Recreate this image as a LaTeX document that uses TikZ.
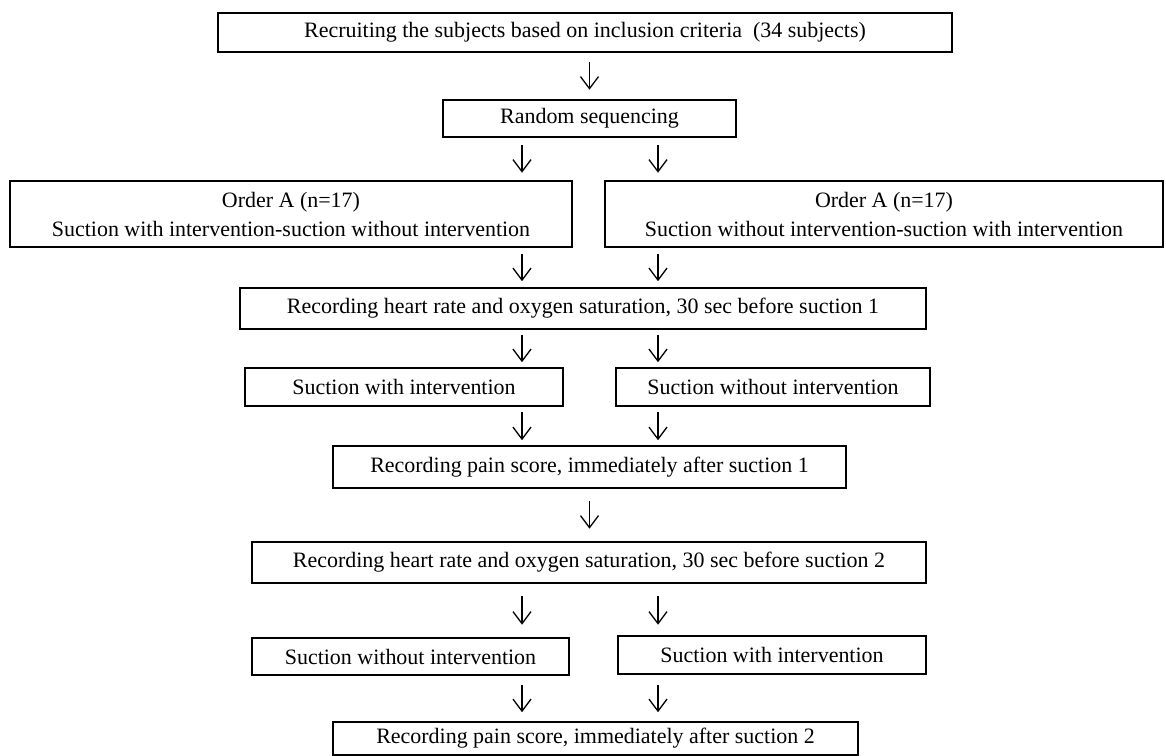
\documentclass[tikz,border=0pt]{standalone}
\usepackage{fontspec}
\setmainfont{Liberation Serif}
\usetikzlibrary{arrows.meta}

\tikzset{
    box/.style={draw, line width=0.9pt, inner sep=0pt, align=center, font=\fontsize{12.5}{16.5}\selectfont},
    flow/.style={->, line width=0.75pt, shorten <=#1, shorten >=#1},
}

\begin{document}
\begin{tikzpicture}[x=0.02cm, y=-0.02cm, >={Straight Barb[length=0.24cm, width=0.36cm]}]

        \useasboundingbox (0,0) rectangle (1166,756);

        % Arrow lanes
        \coordinate (laneL) at (522,0);
        \coordinate (laneR) at (658,0);

        % Boxes
        \node[box, minimum width=14.68cm, minimum height=0.78cm] (recruit) at (585,32.5) {Recruiting the subjects based on inclusion criteria \ (34 subjects)};
        \node[box, minimum width=5.86cm, minimum height=0.74cm] (randseq) at (589.5,118.5) {Random sequencing};
        \node[box, minimum width=11.24cm, minimum height=1.32cm] (orderA) at (291,214) {Order A (n=17)\\Suction with intervention-suction without intervention};
        \node[box, minimum width=11.16cm, minimum height=1.32cm] (orderB) at (884,214) {Order A (n=17)\\Suction without intervention-suction with intervention};
        \node[box, minimum width=13.72cm, minimum height=0.82cm] (hrOne) at (583,308.5) {Recording heart rate and oxygen saturation, 30 sec before suction 1};
        \node[box, minimum width=6.36cm, minimum height=0.76cm] (withOne) at (404,387) {Suction with intervention};
        \node[box, minimum width=6.28cm, minimum height=0.76cm] (withoutOne) at (773,387) {Suction without intervention};
        \node[box, minimum width=10.26cm, minimum height=0.84cm] (painOne) at (589.5,467) {Recording pain score, immediately after suction 1};
        \node[box, minimum width=13.48cm, minimum height=0.82cm] (hrTwo) at (589,562.5) {Recording heart rate and oxygen saturation, 30 sec before suction 2};
        \node[box, minimum width=6.34cm, minimum height=0.74cm] (withoutTwo) at (410.5,656.5) {Suction without intervention};
        \node[box, minimum width=6.16cm, minimum height=0.76cm] (withTwo) at (772,655) {Suction with intervention};
        \node[box, minimum width=10.5cm, minimum height=0.66cm] (painTwo) at (595.5,738.5) {Recording pain score, immediately after suction 2};

        % Single arrows
        \draw[flow=0.19cm] (randseq.north |- recruit.south) -- (randseq.north);
        \draw[flow=0.25cm] (painOne.south) -- (painOne.south |- hrTwo.north);

        % Double arrows
        \foreach \l in {laneL,laneR} {
            \draw[flow=0.15cm] (randseq.south -| \l) -- (orderA.north -| \l);
            \draw[flow=0.12cm] (orderA.south -| \l) -- (hrOne.north -| \l);
            \draw[flow=0.1cm] (hrOne.south -| \l) -- (withOne.north -| \l);
            \draw[flow=0.1cm] (withOne.south -| \l) -- (painOne.north -| \l);
            \draw[flow=0.25cm] (hrTwo.south -| \l) -- (withoutTwo.north -| \l);
            \draw[flow=0.18cm] (withoutTwo.south -| \l) -- (painTwo.north -| \l);
        }

    \end{tikzpicture}
\end{document}
